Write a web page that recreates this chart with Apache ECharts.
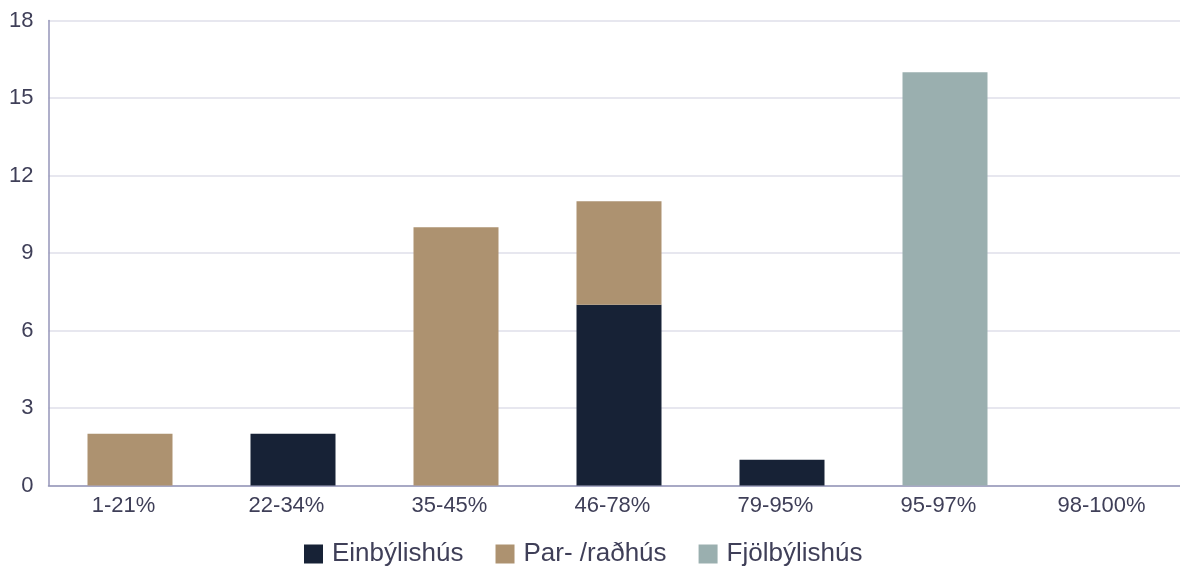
<!DOCTYPE html>
<html><head><meta charset="utf-8">
<script src="https://cdn.jsdelivr.net/npm/echarts@6/dist/echarts.min.js"></script>
<style>html,body{margin:0;padding:0;background:#fff}#c{width:1180px;height:570px}</style>
</head><body><div id="c"></div>
<script>
const categories = ['1-21%','22-34%','35-45%','46-78%','79-95%','95-97%','98-100%'];
const einbyli = [0, 2, 0, 7, 1, 0, 0];
const parRad = [2, 0, 10, 4, 0, 0, 0];
const fjolbyli = [0, 0, 0, 0, 0, 16, 0];
const yTicks = [0, 3, 6, 9, 12, 15, 18];

const chart = echarts.init(document.getElementById('c'), null, {renderer:'canvas'});
const txt = '#3f3f58';
const font = 'Liberation Sans, Arial, sans-serif';
function ser(name, data, color){
  return {name, type:'bar', stack:'a', data: data.map(v=>v===0?null:v), barWidth:85,
    itemStyle:{color}, emphasis:{disabled:true}};
}
chart.setOption({
  animation:false,
  textStyle:{fontFamily:font},
  grid:{left:48.5, width:1141, top:20.5, bottom:84.5, containLabel:false, outerBoundsMode:'none'},
  legend:{top:541, left:304, padding:0, itemWidth:19, itemHeight:19, itemGap:32,
    icon:'rect', textStyle:{fontSize:26, color:txt, fontFamily:font, padding:[0,0,0,4]},
    data:['Einbýlishús','Par- /raðhús','Fjölbýlishús']},
  xAxis:{type:'category', data:categories,
    axisLine:{lineStyle:{color:'#9495b8', width:1.5}}, axisTick:{show:false},
    axisLabel:{fontSize:22, color:txt, margin:9, fontFamily:font, padding:[0,13,0,0]}},
  yAxis:{type:'value', min:yTicks[0], max:yTicks[yTicks.length-1], interval:3,
    axisLine:{show:true, lineStyle:{color:'#9495b8', width:1.5}},
    axisTick:{show:false},
    splitLine:{lineStyle:{color:'#e7e7ef', width:2}},
    axisLabel:{fontSize:22, color:txt, margin:15, fontFamily:font}},
  series:[ser('Einbýlishús', einbyli, '#172236'), ser('Par- /raðhús', parRad, '#ad9270'), ser('Fjölbýlishús', fjolbyli, '#9aafaf')]
});
</script></body></html>
